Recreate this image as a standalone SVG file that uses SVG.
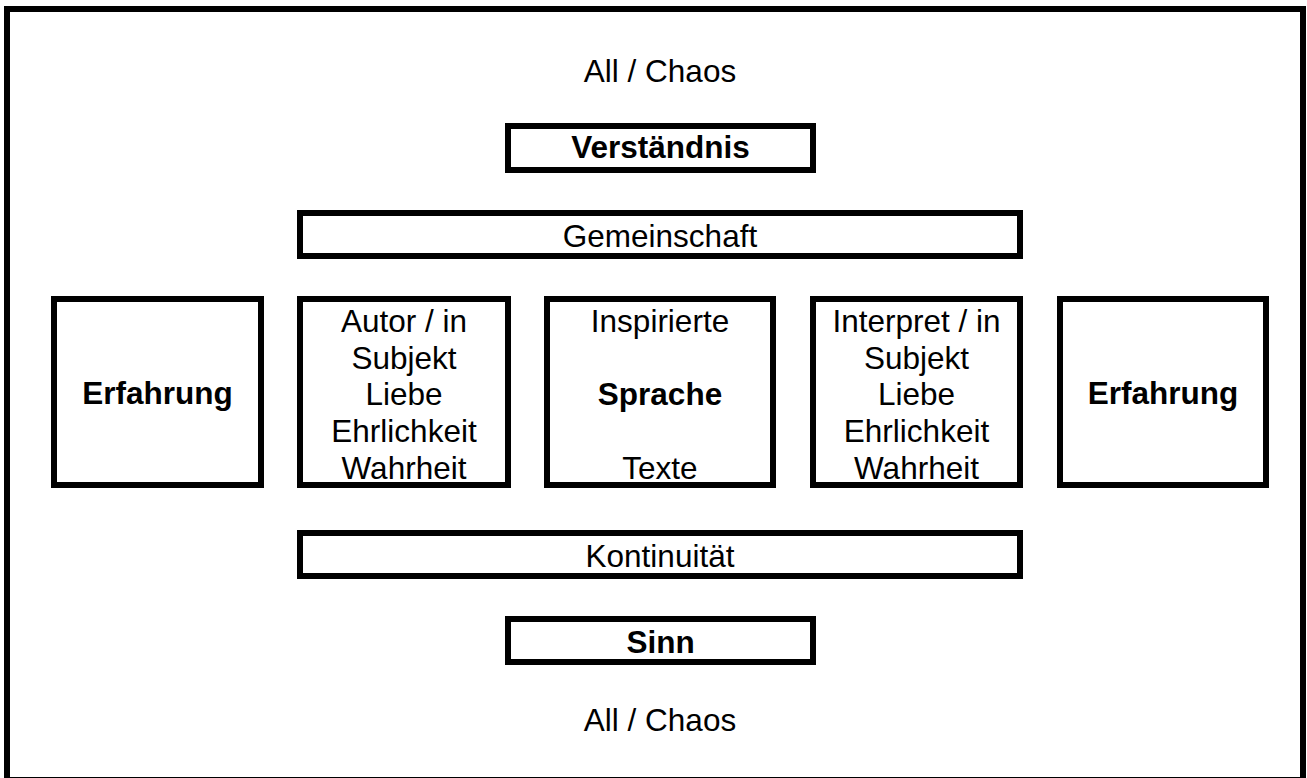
<svg xmlns="http://www.w3.org/2000/svg" width="1307" height="778" viewBox="0 0 1307 778">
<style>
rect{fill:#fff;stroke:#000;stroke-width:6}
text{font-family:"Liberation Sans",Arial,sans-serif;font-size:31.5px;fill:#000;text-anchor:middle}
.b{font-weight:bold}
</style>
<rect x="7" y="9" width="1296" height="771"/>
<g id="connectors"></g>
<text x="660" y="82">All / Chaos</text>
<g id="verstaendnis"><rect x="508" y="126" width="305" height="44"/><text class="b" x="660.5" y="158">Verständnis</text></g>
<g id="gemeinschaft"><rect x="300" y="213" width="720" height="43"/><text x="660" y="247">Gemeinschaft</text></g>
<g id="erfahrung1"><rect x="54" y="299" width="207" height="186"/><text class="b" x="157.5" y="404">Erfahrung</text></g>
<g id="autor"><rect x="300" y="299" width="208" height="186"/>
<text x="404" y="332">Autor / in</text><text x="404" y="369">Subjekt</text><text x="404" y="405">Liebe</text><text x="404" y="442">Ehrlichkeit</text><text x="404" y="479">Wahrheit</text></g>
<g id="sprache"><rect x="547" y="299" width="226" height="186"/>
<text x="660" y="332">Inspirierte</text><text class="b" x="660" y="405">Sprache</text><text x="660" y="479">Texte</text></g>
<g id="interpret"><rect x="813" y="299" width="207" height="186"/>
<text x="916.5" y="332">Interpret / in</text><text x="916.5" y="369">Subjekt</text><text x="916.5" y="405">Liebe</text><text x="916.5" y="442">Ehrlichkeit</text><text x="916.5" y="479">Wahrheit</text></g>
<g id="erfahrung2"><rect x="1060" y="299" width="206" height="186"/><text class="b" x="1163" y="404">Erfahrung</text></g>
<g id="kontinuitaet"><rect x="300" y="533" width="720" height="43"/><text x="660" y="567">Kontinuität</text></g>
<g id="sinn"><rect x="508" y="619" width="305" height="43"/><text class="b" x="660.5" y="653">Sinn</text></g>
<text x="660" y="731">All / Chaos</text>
</svg>
